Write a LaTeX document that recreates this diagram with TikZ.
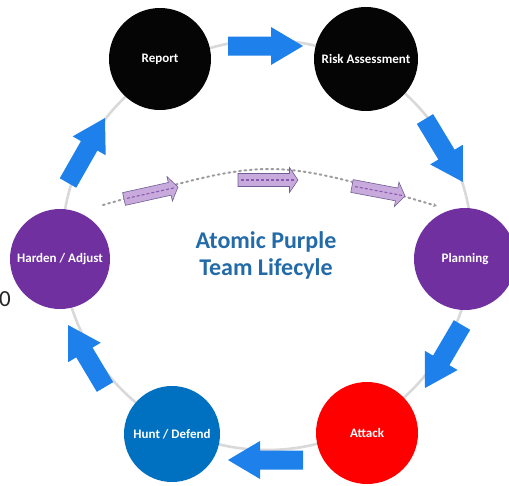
\documentclass[tikz,border=0pt]{standalone}
\usepackage{fontspec}
\setmainfont{Carlito}
\usetikzlibrary{calc,arrows.meta}

\definecolor{ringgray}{HTML}{D9D9D9}
\definecolor{stagepurple}{HTML}{7030A0}
\definecolor{stageblue}{HTML}{0070C0}
\definecolor{stagered}{HTML}{FF0000}
\definecolor{stageblack}{HTML}{050505}
\definecolor{flowblue}{HTML}{1E80EB}
\definecolor{titleblue}{HTML}{236AA8}
\definecolor{lavender}{HTML}{C9AADD}
\definecolor{lavedge}{HTML}{6E5E92}
\definecolor{lavdash}{HTML}{8A5AAE}
\definecolor{arcgray}{HTML}{9C9C9C}

\tikzset{
  stage/.style={circle, inner sep=0pt, minimum size=102pt, text=white,
    font=\bfseries\fontsize{13}{15}\selectfont},
  ring/.style={draw=ringgray, line width=2.6pt},
  flowarrow/.style={fill=flowblue},
  minorarrow/.style={fill=lavender, draw=lavedge, line width=0.6pt},
  minordash/.style={draw=lavdash, line width=1.1pt, dash pattern=on 3pt off 2pt},
  dottedarc/.style={draw=arcgray, line width=2pt, line cap=round,
    dash pattern=on 1.8pt off 3.6pt},
  titletext/.style={text=titleblue, align=center,
    font=\bfseries\fontsize{24}{27}\selectfont},
}

% block arrow from #1 (tail) to #2 (tip); #3 shaft half width, #4 head half width, #5 head length
\newcommand\blockarrow[6]{%
  \coordinate (hb) at ($(#2)!#5!(#1)$);
  \path[#6] ($(#1)!#3!90:(#2)$) -- ($(hb)!#3!90:(#2)$) -- ($(hb)!#4!90:(#2)$)
    -- (#2) -- ($(hb)!#4!-90:(#2)$) -- ($(hb)!#3!-90:(#2)$)
    -- ($(#1)!#3!-90:(#2)$) -- cycle;}

\begin{document}
\begin{tikzpicture}[x=1pt, y=-1pt]
\useasboundingbox (0,0) rectangle (509,485);
\fill[white] (0,0) rectangle (509,485);

% the ring that links the stages
\draw[ring] (267,245) circle[radius=205pt];

% stages of the cycle
\node[stage, fill=stageblack] (report) at (160,59) {Report};
\node[stage, fill=stageblack, minimum size=104pt] (risk) at (366,59) {Risk Assessment};
\node[stage, fill=stagepurple] (plan) at (465,259) {Planning};
\node[stage, fill=stagered] (attack) at (367,433) {Attack};
\node[stage, fill=stageblue, minimum size=96pt] (hunt) at (172,434) {Hunt / Defend};
\node[stage, fill=stagepurple, minimum size=100pt] (harden) at (60,259) {Harden / Adjust};

% big blue arrows between the stages
\coordinate (a1t) at (228,46);  \coordinate (a1h) at (303,46);
\coordinate (a2t) at (425,119); \coordinate (a2h) at (463,182);
\coordinate (a3t) at (462,325); \coordinate (a3h) at (425,388);
\coordinate (a4t) at (303,460); \coordinate (a4h) at (228,460);
\coordinate (a5t) at (105,387); \coordinate (a5h) at (68,325);
\coordinate (a6t) at (68,183);  \coordinate (a6h) at (105,118);
\foreach \t/\h in {a1t/a1h, a2t/a2h, a3t/a3h, a4t/a4h, a5t/a5h, a6t/a6h}
  {\blockarrow{\t}{\h}{9.5pt}{19pt}{32pt}{flowarrow}}

% dotted arc with the small purple arrows
\coordinate (arcS) at (103,205);
\coordinate (arcE) at (437,206);
\draw[dottedarc, -{Stealth[length=4pt,width=4pt]}] (arcS) .. controls (270,157) .. (arcE);

\coordinate (p1t) at (124,199); \coordinate (p1h) at (178,187);
\coordinate (p2t) at (238,180); \coordinate (p2h) at (298,180);
\coordinate (p3t) at (352,186); \coordinate (p3h) at (405,196);
\foreach \t/\h in {p1t/p1h, p2t/p2h, p3t/p3h}{
  \blockarrow{\t}{\h}{6.5pt}{12.5pt}{8.5pt}{minorarrow}
  \draw[minordash] ($(\t)!3pt!(\h)$) -- ($(\h)!3pt!(\t)$);
}

% title in the middle
\node[titletext] (title) at (266,255) {Atomic Purple\\Team Lifecyle};

% stray digit at the left edge
\node[font=\fontsize{23}{25}\selectfont, text=black!85, inner sep=0pt] (digit) at (5,299) {0};
\end{tikzpicture}
\end{document}
